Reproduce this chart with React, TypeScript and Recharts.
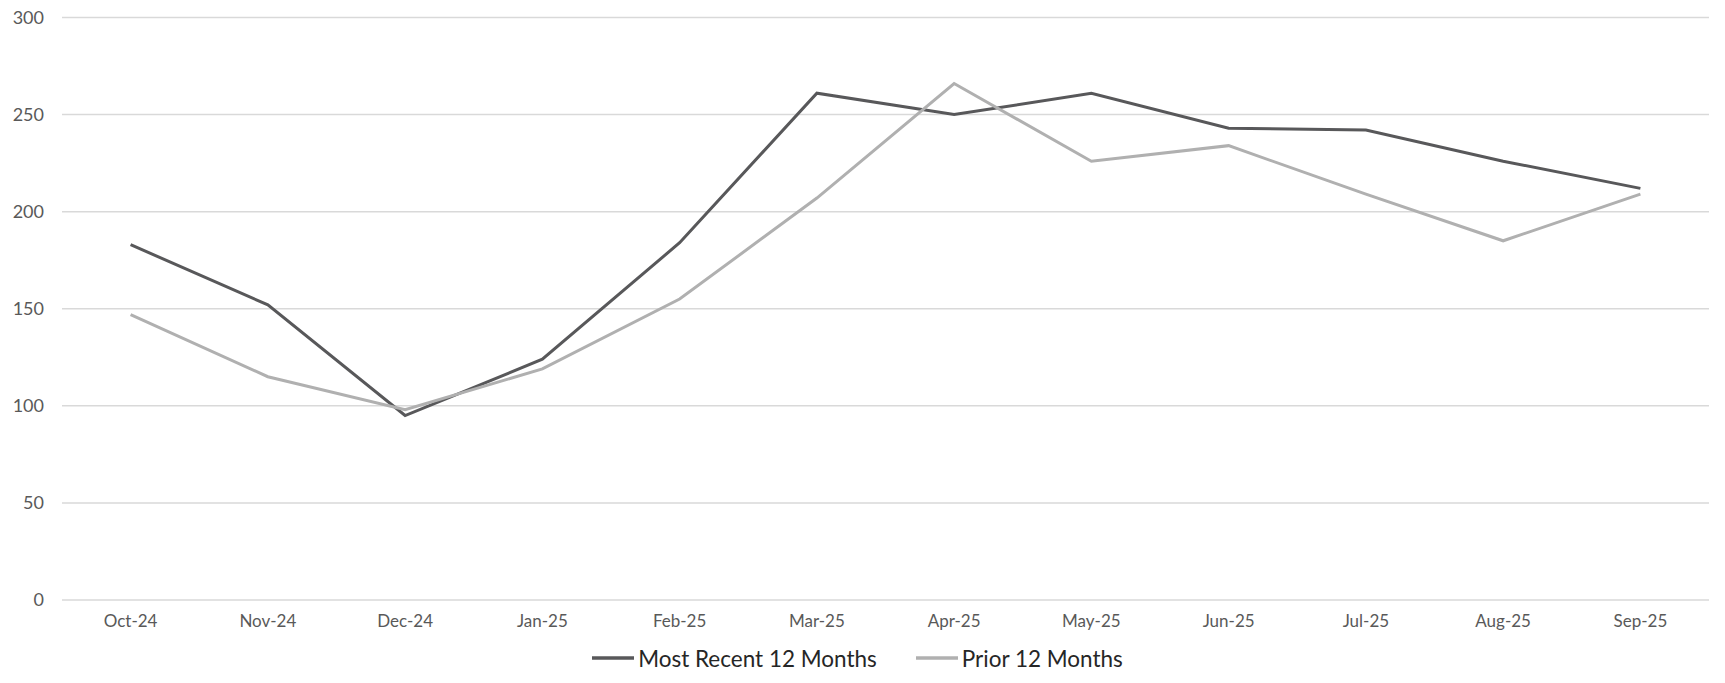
import React from "react";
import { LineChart, Line, XAxis, YAxis, CartesianGrid, Legend } from "recharts";

const months = ["Oct-24", "Nov-24", "Dec-24", "Jan-25", "Feb-25", "Mar-25", "Apr-25", "May-25", "Jun-25", "Jul-25", "Aug-25", "Sep-25"];
const mostRecent = [183, 152, 95, 124, 184, 261, 250, 261, 243, 242, 226, 212];
const prior = [147, 115, 98, 119, 155, 207, 266, 226, 234, 209, 185, 209];
const yTicks = [0, 50, 100, 150, 200, 250, 300];

const data = months.map((m, i) => ({ month: m, recent: mostRecent[i], prior: prior[i] }));

const FONT = "Lato, 'Noto Sans', sans-serif";

const renderLegend = (props: any) => {
  const { payload } = props;
  return (
    <div style={{ display: "flex", justifyContent: "center", alignItems: "center", height: 36, paddingLeft: 6, fontFamily: FONT, fontSize: 22.5, color: "#262626" }}>
      {payload.map((p: any, i: number) => (
        <div key={i} style={{ display: "flex", alignItems: "center", marginLeft: i === 0 ? 0 : 39 }}>
          <svg width={42} height={4} style={{ marginRight: 4 }}>
            <line x1={0} y1={2} x2={42} y2={2} stroke={p.color} strokeWidth={3.5} />
          </svg>
          <span>{p.value}</span>
        </div>
      ))}
    </div>
  );
};

export default function App() {
  return (
    <div style={{ position: "absolute", left: 0, top: 0, width: 1725, height: 683, background: "#fff" }}>
      <LineChart width={1725} height={683} data={data} margin={{ top: 17.5, right: 16, bottom: 0, left: 0 }}>
        <CartesianGrid vertical={false} stroke="#d9d9d9" strokeWidth={1.5} />
        <XAxis
          dataKey="month"
          axisLine={false}
          tickLine={false}
          height={40}
          tickMargin={9}
          padding={{ left: 68.6, right: 68.6 }}
          tick={{ fill: "#595959", fontSize: 17, fontFamily: FONT }}
          interval={0}
        />
        <YAxis
          domain={[0, 300]}
          ticks={yTicks}
          axisLine={false}
          tickLine={false}
          width={62}
          tickMargin={12}
          tick={{ fill: "#595959", fontSize: 18, fontFamily: FONT }}
        />
        <Legend verticalAlign="bottom" height={43} content={renderLegend} wrapperStyle={{ height: 43 }} />
        <Line type="linear" dataKey="recent" name="Most Recent 12 Months" stroke="#58585a" strokeWidth={3} dot={false} isAnimationActive={false} />
        <Line type="linear" dataKey="prior" name="Prior 12 Months" stroke="#b0b0b0" strokeWidth={3} dot={false} isAnimationActive={false} />
      </LineChart>
    </div>
  );
}
